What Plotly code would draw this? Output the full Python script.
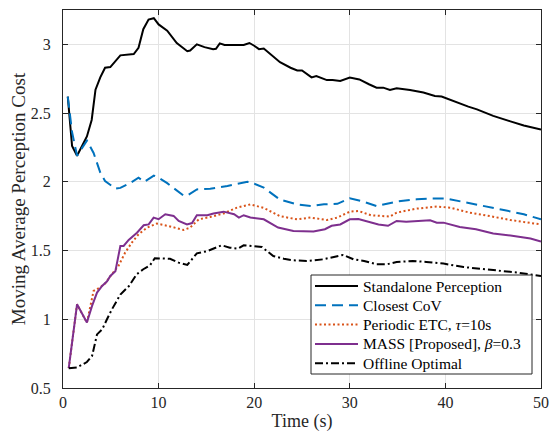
import plotly.graph_objects as go

# ---- data ----
t_standalone = [0.5, 0.95, 1.47, 2.0, 2.5, 3.0, 3.4, 3.9, 4.4, 4.95, 5.5, 6.0, 7.4, 7.9, 8.4, 8.95,
                9.5, 10.0, 10.9, 11.9, 13.0, 13.3, 14.0, 14.8, 15.7, 16.0, 16.4, 16.9, 18.9, 19.5,
                20.0, 20.5, 21.0, 21.7, 22.7, 23.8, 24.5, 25.0, 26.0, 26.5, 27.6, 28.2, 29.0, 30.0,
                31.0, 32.0, 32.8, 33.5, 34.2, 34.9, 36.3, 37.7, 38.9, 39.6, 41.2, 42.4, 43.3, 45.0,
                46.8, 48.2, 50.0]
standalone = [2.62, 2.26, 2.19, 2.26, 2.33, 2.45, 2.67, 2.76, 2.83, 2.835, 2.88, 2.92, 2.93, 2.975,
              3.11, 3.18, 3.19, 3.145, 3.10, 3.01, 2.95, 2.955, 3.0, 2.98, 2.965, 2.968, 3.007, 2.995,
              2.995, 3.01, 2.99, 2.965, 2.97, 2.93, 2.87, 2.83, 2.81, 2.81, 2.76, 2.77, 2.74, 2.74,
              2.733, 2.758, 2.745, 2.71, 2.685, 2.685, 2.668, 2.68, 2.668, 2.65, 2.624, 2.62, 2.576,
              2.547, 2.527, 2.48, 2.44, 2.41, 2.38]

t_cov = [0.5, 0.95, 1.47, 2.5, 3.2, 3.9, 4.4, 5.5, 6.0, 7.0, 7.9, 8.5, 9.5, 10.0, 10.9, 11.7, 12.6,
         13.0, 14.0, 15.4, 17.2, 19.3, 19.6, 21.0, 22.7, 24.5, 26.0, 27.3, 28.7, 30.0, 31.2, 32.8,
         33.5, 34.9, 37.0, 38.4, 40.1, 41.8, 44.0, 46.1, 48.2, 50.0]
cov = [2.62, 2.36, 2.19, 2.30, 2.21, 2.067, 2.006, 1.95, 1.956, 1.99, 2.03, 2.0, 2.045, 2.03, 1.99,
       1.95, 1.90, 1.90, 1.945, 1.95, 1.97, 2.0, 1.998, 1.958, 1.87, 1.836, 1.824, 1.836, 1.84, 1.88,
       1.86, 1.824, 1.836, 1.856, 1.873, 1.878, 1.878, 1.856, 1.824, 1.795, 1.764, 1.727]

t_etc = [0.6, 1.47, 2.5, 3.2, 3.9, 4.4, 5.1, 5.8, 6.5, 7.2, 7.9, 8.8, 9.8, 11.0, 12.6, 13.3, 14.2,
         15.4, 16.8, 18.2, 19.6, 21.0, 22.7, 24.5, 25.9, 27.6, 28.7, 30.0, 30.9, 32.2, 34.2, 34.9,
         37.0, 39.1, 40.5, 42.5, 44.7, 46.8, 50.0]
etc = [0.644, 1.109, 0.976, 1.206, 1.233, 1.26, 1.327, 1.388, 1.485, 1.558, 1.618, 1.667, 1.696,
       1.679, 1.65, 1.667, 1.727, 1.744, 1.77, 1.812, 1.836, 1.81, 1.75, 1.727, 1.74, 1.722, 1.74,
       1.783, 1.788, 1.757, 1.747, 1.776, 1.805, 1.82, 1.812, 1.776, 1.75, 1.722, 1.69]

t_mass = [0.6, 1.47, 2.5, 3.04, 3.56, 4.09, 4.61, 4.95, 5.48, 6.0, 6.34, 6.87, 7.74, 8.44, 8.96,
          9.48, 10.0, 10.7, 11.57, 12.1, 12.97, 13.5, 14.0, 15.1, 15.74, 16.8, 17.9, 18.4, 18.9,
          19.6, 21.0, 22.5, 24.1, 26.2, 27.4, 28.1, 29.0, 30.0, 30.9, 32.2, 33.0, 34.0, 34.9, 35.9,
          37.35, 38.4, 39.1, 39.8, 41.5, 43.2, 45.0, 46.8, 48.9, 50.0]
mass = [0.644, 1.109, 0.976, 1.097, 1.194, 1.242, 1.276, 1.315, 1.35, 1.533, 1.533, 1.577, 1.63,
        1.684, 1.69, 1.74, 1.728, 1.764, 1.752, 1.715, 1.69, 1.70, 1.757, 1.757, 1.77, 1.783, 1.764,
        1.74, 1.757, 1.74, 1.727, 1.667, 1.642, 1.638, 1.655, 1.68, 1.69, 1.727, 1.73, 1.703, 1.69,
        1.68, 1.715, 1.71, 1.715, 1.72, 1.703, 1.703, 1.671, 1.655, 1.624, 1.61, 1.587, 1.565]

t_opt = [0.6, 1.47, 2.5, 3.04, 3.56, 4.1, 4.6, 5.1, 6.0, 6.9, 7.7, 8.4, 9.1, 9.6, 11.2, 12.1, 13.0,
         14.0, 15.1, 16.6, 17.45, 18.3, 18.9, 20.0, 20.8, 22.0, 23.1, 24.1, 25.5, 27.2, 28.2, 29.3,
         30.4, 31.5, 32.8, 33.9, 34.9, 36.6, 38.0, 39.8, 41.9, 44.0, 45.4, 47.5, 50.0]
opt = [0.644, 0.649, 0.689, 0.733, 0.89, 0.927, 1.0, 1.07, 1.18, 1.242, 1.327, 1.364, 1.393, 1.444,
       1.44, 1.412, 1.395, 1.48, 1.496, 1.538, 1.521, 1.514, 1.538, 1.53, 1.526, 1.46, 1.44, 1.429,
       1.424, 1.436, 1.45, 1.468, 1.436, 1.424, 1.40, 1.40, 1.417, 1.424, 1.417, 1.405, 1.38, 1.364,
       1.352, 1.34, 1.315]

y_tickvals = [0.5, 1, 1.5, 2, 2.5, 3]
y_ticktext = ["0.5", "1", "1.5", "2", "2.5", "3"]
x_tickvals = [0, 10, 20, 30, 40, 50]
x_ticktext = ["0", "10", "20", "30", "40", "50"]

names = ["Standalone Perception", "Closest CoV", "Periodic ETC, <i>τ</i>=10s",
         "MASS [Proposed], <i>β</i>=0.3", "Offline Optimal"]

# ---- styles ----
colors = ["#000000", "#0072BD", "#D95319", "#7E2F8E", "#000000"]
dashes = ["solid", "11px,6px", "2px,2.5px", "solid", "8px,3px,2px,3px"]
font_family = "Liberation Serif"

# ---- figure ----
W, H = 553, 437
ML, MR, MT, MB = 63, 12, 10, 49
PW, PH = W - ML - MR, H - MT - MB

fig = go.Figure()
xs = [t_standalone, t_cov, t_etc, t_mass, t_opt]
ys = [standalone, cov, etc, mass, opt]
for x, y, n, c, d in zip(xs, ys, names, colors, dashes):
    fig.add_trace(go.Scatter(x=x, y=y, mode="lines", name=n, showlegend=False,
                             line=dict(color=c, width=2, dash=d)))

# legend box (MATLAB-style, compact rows)
def px_x(px):
    return (px - ML) / PW

def px_y(py):
    return (H - MB - py) / PH

box_l, box_r, box_t, box_b = 311, 532, 275, 374
row0, row_h = 286, 19.3
shapes = [dict(type="rect", xref="paper", yref="paper",
               x0=px_x(box_l), x1=px_x(box_r), y0=px_y(box_b), y1=px_y(box_t),
               line=dict(color="#262626", width=1), fillcolor="white", layer="above")]
annotations = []
for i, (n, c, d) in enumerate(zip(names, colors, dashes)):
    yc = row0 + i * row_h
    shapes.append(dict(type="line", xref="paper", yref="paper",
                       x0=px_x(315), x1=px_x(358), y0=px_y(yc), y1=px_y(yc),
                       line=dict(color=c, width=2, dash=d), layer="above"))
    annotations.append(dict(text=n, xref="paper", yref="paper", x=px_x(361), y=px_y(yc),
                            xanchor="left", yanchor="middle", showarrow=False,
                            font=dict(family=font_family, size=15.5, color="#000000")))

axis_common = dict(showline=True, linecolor="#262626", linewidth=1, mirror="allticks",
                   ticks="inside", ticklen=5, tickcolor="#262626",
                   showgrid=True, gridcolor="#e3e3e3", gridwidth=1, zeroline=False,
                   tickfont=dict(family=font_family, size=16, color="#262626"))

fig.update_layout(
    width=W, height=H,
    margin=dict(l=ML, r=MR, t=MT, b=MB, autoexpand=False),
    paper_bgcolor="white", plot_bgcolor="white",
    font=dict(family=font_family, color="#262626"),
    showlegend=False,
    shapes=shapes, annotations=annotations,
    xaxis=dict(range=[0, 50], tickvals=x_tickvals, ticktext=x_ticktext,
               title=dict(text="Time (s)", font=dict(family=font_family, size=18), standoff=4),
               **axis_common),
    yaxis=dict(range=[0.5, 3.25], tickvals=y_tickvals, ticktext=y_ticktext,
               ticklabelstandoff=8,
               title=dict(text="Moving Average Perception Cost",
                          font=dict(family=font_family, size=19), standoff=0),
               **axis_common),
)

fig.write_html("out.html", config={"displayModeBar": False},
               post_script="document.body.style.margin='0px';document.body.style.padding='0px';")
